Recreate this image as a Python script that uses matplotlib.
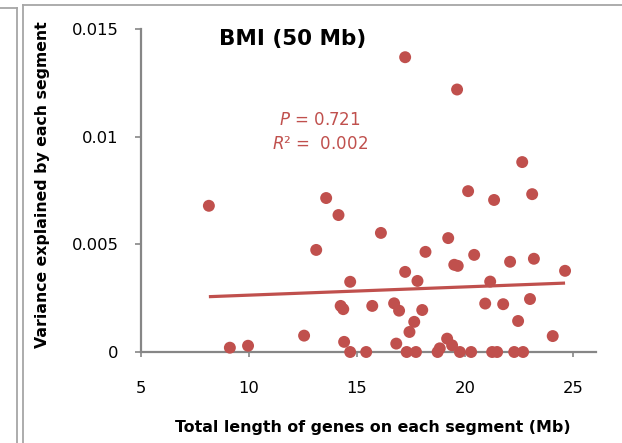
import numpy as np
import matplotlib
matplotlib.use('Agg')
import matplotlib.pyplot as plt
from matplotlib.lines import Line2D

# total gene length per segment (Mb) and variance explained by that segment
gene_len = [8.16, 9.13, 9.97, 12.56, 13.12, 13.58, 14.15, 16.11, 14.69, 14.25,
            14.37, 15.71, 14.41, 14.69, 15.43, 17.23, 19.63, 22.64, 20.14, 21.34,
            23.10, 19.22, 18.17, 20.42, 19.50, 19.66, 22.08, 23.18, 24.62, 17.23,
            17.80, 21.16, 16.72, 16.95, 18.02, 20.93, 21.76, 23.00, 17.65, 22.45,
            17.43, 24.05, 16.82, 19.17, 19.40, 18.83, 17.30, 17.73, 18.73, 19.76,
            20.28, 21.25, 21.48, 22.27, 22.68]
var_expl = [0.00679, 0.00020, 0.00029, 0.00076, 0.00474, 0.00715, 0.00636, 0.00553, 0.00326, 0.00214,
            0.00199, 0.00214, 0.00047, 0.0, 0.0, 0.01369, 0.01219, 0.00882, 0.00747, 0.00706,
            0.00733, 0.00529, 0.00465, 0.00451, 0.00405, 0.00400, 0.00419, 0.00433, 0.00377, 0.00372,
            0.00330, 0.00327, 0.00226, 0.00192, 0.00195, 0.00225, 0.00222, 0.00246, 0.00140, 0.00144,
            0.00093, 0.00074, 0.00039, 0.00062, 0.00031, 0.00017, 0.0, 0.0, 0.0, 0.0,
            0.0, 0.0, 0.0, 0.0, 0.0]

x_ticks = [5, 10, 15, 20, 25]
y_ticks = [0, 0.005, 0.01, 0.015]
y_tick_labels = ['0', '0.005', '0.01', '0.015']

p_value = '0.721'
r2_value = '0.002'

red = '#C0504D'
grey = '#868686'
plt.rcParams['font.family'] = ['DejaVu Sans']

fig = plt.figure(figsize=(6.22, 4.43), dpi=100)
ax = fig.add_axes([140.5 / 622, 1 - 352 / 443, (596 - 140.5) / 622, (352 - 29) / 443])

x = np.array(gene_len)
y = np.array(var_expl)
ax.scatter(x, y, s=74, color=red, edgecolors='none', zorder=3, clip_on=False)

# linear trend over the data range
slope, icpt = np.polyfit(x, y, 1)
xs = np.array([x.min(), x.max()])
ax.plot(xs, slope * xs + icpt, color=red, lw=2.3, zorder=2, solid_capstyle='butt')

ax.set_xlim(5, 26.05)
ax.set_ylim(0, 0.015)
ax.set_xticks(x_ticks)
ax.set_xticklabels([str(t) for t in x_ticks], fontsize=11.8)
ax.set_yticks(y_ticks)
ax.set_yticklabels(y_tick_labels, fontsize=11.8)
ax.tick_params(axis='x', direction='out', length=3.6, width=1.2, color=grey, pad=17)
ax.tick_params(axis='y', direction='out', length=4.3, width=1.2, color=grey, pad=11.5)

for side in ['top', 'right']:
    ax.spines[side].set_visible(False)
for side in ['left', 'bottom']:
    ax.spines[side].set_color(grey)
    ax.spines[side].set_linewidth(1.6)

ax.set_xlabel('Total length of genes on each segment (Mb)', fontsize=11.4, fontweight='bold')
ax.xaxis.set_label_coords((372.5 - 140.5) / 455.5, (352 - 420) / 323)
ax.set_ylabel('Variance explained by each segment', fontsize=11.3, fontweight='bold')
ax.yaxis.set_label_coords((50 - 140.5) / 455.5, (352 - 185) / 323)

fig.text(293 / 622, 1 - 39 / 443, 'BMI (50 Mb)', ha='center', va='center',
         fontsize=15.5, fontweight='bold')
fig.text(320 / 622, 1 - 120 / 443, '$\\it{P}$ = ' + p_value, ha='center', va='center',
         fontsize=12, color=red)
fig.text(320 / 622, 1 - 144 / 443, '$\\it{R}$\u00b2 =  ' + r2_value, ha='center', va='center',
         fontsize=12, color=red)

# panel frames
frame = '#A6A6A6'
fig.add_artist(Line2D([16.5 / 622, 16.5 / 622], [0, 1 - 8 / 443], transform=fig.transFigure, color=frame, lw=1.3))
fig.add_artist(Line2D([0, 16.5 / 622], [1 - 8 / 443, 1 - 8 / 443], transform=fig.transFigure, color=frame, lw=1.3))
fig.add_artist(Line2D([22.8 / 622, 22.8 / 622], [0, 1 - 5 / 443], transform=fig.transFigure, color=frame, lw=1.3))
fig.add_artist(Line2D([22.8 / 622, 1], [1 - 5 / 443, 1 - 5 / 443], transform=fig.transFigure, color=frame, lw=1.3))

fig.savefig('out.png', dpi=100)
